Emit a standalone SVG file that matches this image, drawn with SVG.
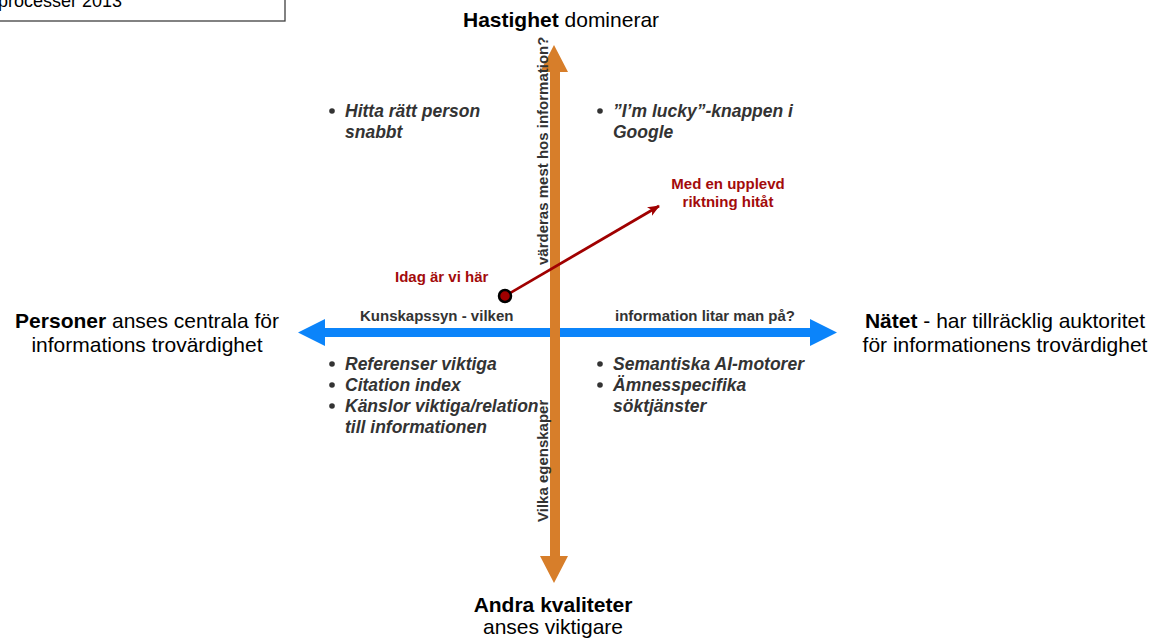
<svg xmlns="http://www.w3.org/2000/svg" width="1152" height="640" viewBox="0 0 1152 640">
  <defs>
    <style>
      text { font-family: "Liberation Sans", Arial, sans-serif; }
      .main { font-size: 21px; fill: #000; }
      .b { font-weight: bold; }
      .bullet { font-size: 17.5px; font-weight: bold; font-style: italic; fill: #333; }
      .dot { fill: #333; }
      .axis { font-size: 15px; font-weight: bold; fill: #333; }
      .red { font-size: 15px; font-weight: bold; fill: #a30b0b; }
      .hdr { font-size: 18px; fill: #000; }
    </style>
    <marker id="redHead" viewBox="0 0 12 10" refX="11" refY="5" markerWidth="12" markerHeight="10" markerUnits="userSpaceOnUse" orient="auto">
      <path d="M0,0 L12,5 L0,10 L3,5 Z" fill="#a00000"/>
    </marker>
  </defs>

  <rect width="1152" height="640" fill="#fff"/>

  <!-- header box, cut by the page edge -->
  <g id="header">
    <rect x="-10" y="-10" width="295" height="31" fill="#fff" stroke="#404040" stroke-width="1.3"/>
    <text class="hdr" x="-2" y="7">processer 2013</text>
  </g>

  <!-- axes and the movement arrow -->
  <g id="connectors">
    <!-- horizontal double arrow: Personer <-> Nätet -->
    <polygon id="axis-h" fill="#0b84fa"
      points="298,332.5 325,319 325,328 810,328 810,319 837,332.5 810,346 810,337 325,337 325,346"/>
    <!-- vertical double arrow: Hastighet <-> Andra kvaliteter -->
    <polygon id="axis-v" fill="#d77e2a"
      points="554,45 568,72 560,72 560,556 568,556 554,583 540,556 550,556 550,72 540,72"/>
    <!-- direction of travel -->
    <line id="trend" x1="505" y1="296" x2="659" y2="206" stroke="#a00000" stroke-width="2.8" marker-end="url(#redHead)"/>
    <circle cx="505" cy="296" r="6" fill="#a00000" stroke="#000" stroke-width="2.5"/>
  </g>

  <!-- axis end labels -->
  <g id="top-label">
    <text class="main" x="463" y="27"><tspan class="b">Hastighet</tspan> dominerar</text>
  </g>
  <g id="left-label">
    <text class="main" x="147" y="328" text-anchor="middle"><tspan class="b">Personer</tspan> anses centrala för</text>
    <text class="main" x="147" y="352" text-anchor="middle">informations trovärdighet</text>
  </g>
  <g id="right-label">
    <text class="main" x="1005" y="328" text-anchor="middle"><tspan class="b">Nätet</tspan> - har tillräcklig auktoritet</text>
    <text class="main" x="1005" y="352" text-anchor="middle">för informationens trovärdighet</text>
  </g>
  <g id="bottom-label">
    <text class="main b" x="553" y="612" text-anchor="middle">Andra kvaliteter</text>
    <text class="main" x="553" y="634" text-anchor="middle">anses viktigare</text>
  </g>

  <!-- axis captions -->
  <g id="h-caption">
    <text class="axis" x="360" y="321">Kunskapssyn - vilken</text>
    <text class="axis" x="615" y="321">information litar man på?</text>
  </g>
  <g id="v-caption">
    <text class="axis" transform="translate(548,265) rotate(-90)">värderas mest hos information?</text>
    <text class="axis" transform="translate(548,522) rotate(-90)">Vilka egenskaper</text>
  </g>

  <!-- movement labels -->
  <g id="today">
    <text class="red" x="395" y="282">Idag är vi här</text>
  </g>
  <g id="direction">
    <text class="red" x="728" y="189" text-anchor="middle">Med en upplevd</text>
    <text class="red" x="728" y="207" text-anchor="middle">riktning hitåt</text>
  </g>

  <!-- quadrant lists -->
  <g id="q-top-left">
    <circle class="dot" cx="332" cy="111" r="2.8"/>
    <text class="bullet" x="345" y="117">Hitta rätt person</text>
    <text class="bullet" x="345" y="138">snabbt</text>
  </g>
  <g id="q-top-right">
    <circle class="dot" cx="600" cy="111" r="2.8"/>
    <text class="bullet" x="613" y="117">”I’m lucky”-knappen i</text>
    <text class="bullet" x="613" y="138">Google</text>
  </g>
  <g id="q-bottom-left">
    <circle class="dot" cx="332" cy="364" r="2.8"/>
    <text class="bullet" x="345" y="370">Referenser viktiga</text>
    <circle class="dot" cx="332" cy="385" r="2.8"/>
    <text class="bullet" x="345" y="391">Citation index</text>
    <circle class="dot" cx="332" cy="406" r="2.8"/>
    <text class="bullet" x="345" y="412">Känslor viktiga/relation</text>
    <text class="bullet" x="345" y="433">till informationen</text>
  </g>
  <g id="q-bottom-right">
    <circle class="dot" cx="600" cy="364" r="2.8"/>
    <text class="bullet" x="613" y="370">Semantiska AI-motorer</text>
    <circle class="dot" cx="600" cy="385" r="2.8"/>
    <text class="bullet" x="613" y="391">Ämnesspecifika</text>
    <text class="bullet" x="613" y="412">söktjänster</text>
  </g>
</svg>
